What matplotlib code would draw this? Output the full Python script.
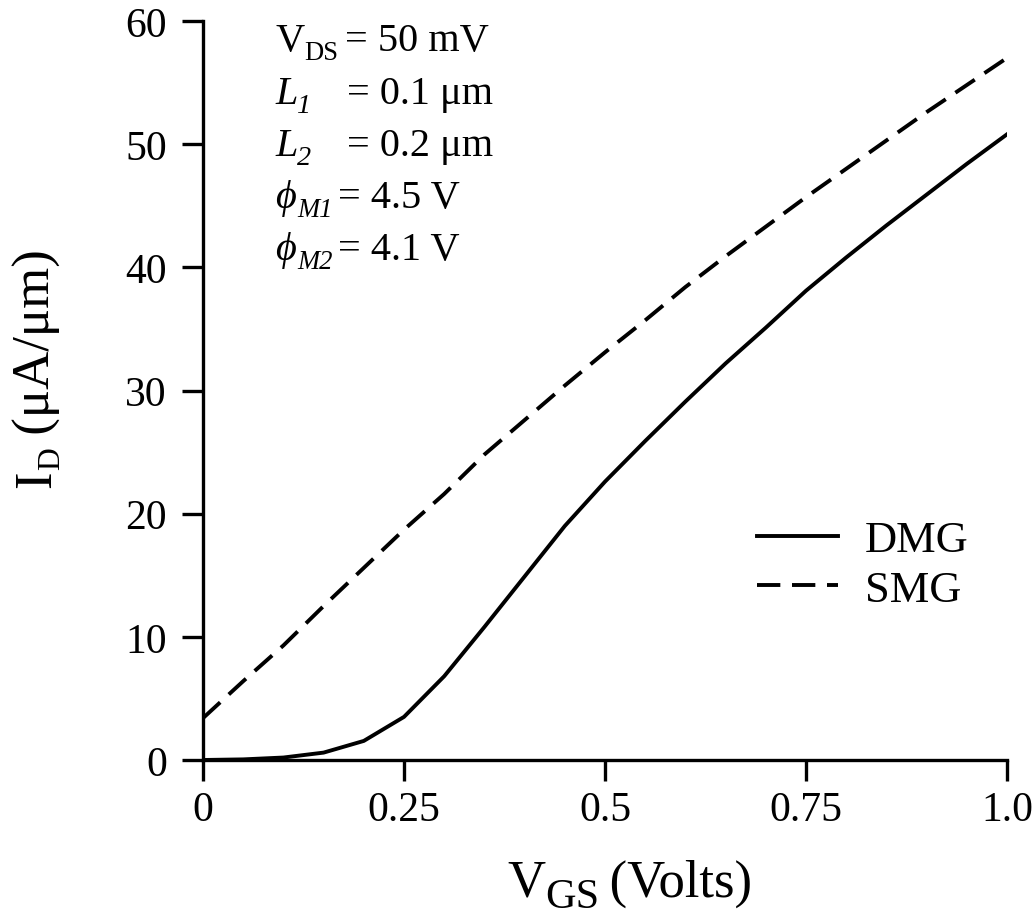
import matplotlib
matplotlib.use("Agg")
import matplotlib.pyplot as plt

plt.rcParams['font.family'] = ['Liberation Serif', 'DejaVu Serif']
plt.rcParams['mathtext.fontset'] = 'custom'
plt.rcParams['mathtext.rm'] = 'Liberation Serif'
plt.rcParams['mathtext.it'] = 'Liberation Serif:italic'
plt.rcParams['mathtext.bf'] = 'Liberation Serif:bold'

vgs = [0.0, 0.05, 0.1, 0.15, 0.2, 0.25, 0.3, 0.35, 0.4, 0.45, 0.5,
       0.55, 0.6, 0.65, 0.7, 0.75, 0.8, 0.85, 0.9, 0.95, 1.0]
id_dmg = [0.0, 0.05, 0.2, 0.6, 1.55, 3.5, 6.8, 10.8, 14.9, 19.0, 22.6,
          25.9, 29.1, 32.2, 35.1, 38.1, 40.8, 43.4, 45.9, 48.4, 50.8]
id_smg = [3.4, 6.4, 9.3, 12.5, 15.6, 18.7, 21.6, 24.8, 27.6, 30.4, 33.1,
          35.7, 38.4, 40.9, 43.3, 45.7, 48.0, 50.3, 52.6, 54.8, 57.0]

xticks = [0, 0.25, 0.5, 0.75, 1.0]
xticklabels = ["0", "0.25", "0.5", "0.75", "1.0"]
yticks = [0, 10, 20, 30, 40, 50, 60]

W, H = 1036, 920
fig = plt.figure(figsize=(W / 100, H / 100), dpi=100)
renderer = fig.canvas.get_renderer()
ax = fig.add_axes([203 / W, 1 - 761 / H, (1007 - 203) / W, (761 - 22) / H])

lw = 2.8
ax.plot(vgs, id_dmg, color='black', lw=lw, label='DMG')
ax.plot(vgs, id_smg, color='black', lw=lw, dashes=(6.0, 3.0), label='SMG')

ax.set_xlim(0, 1.0)
ax.set_ylim(0, 60)
ax.set_xticks(xticks)
ax.set_xticklabels(xticklabels)
ax.set_yticks(yticks)
for s in ['top', 'right']:
    ax.spines[s].set_visible(False)
for s in ['left', 'bottom']:
    ax.spines[s].set_linewidth(2.4)
ax.tick_params(axis='both', direction='out', length=15, width=2.4, labelsize=30)
ax.tick_params(axis='x', pad=7)
ax.tick_params(axis='y', pad=11)

leg = ax.legend(loc='upper left',
                bbox_to_anchor=((757 - 203) / 804, (761 - 521) / 739),
                frameon=False, fontsize=32, handlelength=1.82, handletextpad=0.6,
                labelspacing=0.22, borderaxespad=0, borderpad=0)


def runs_text(x0, y0, runs, rotation=0):
    """Place consecutive text runs; x0, y0 in pixels from top-left (baseline)."""
    pos = 0.0
    for s, size, dy, kw in runs:
        if rotation == 0:
            px, py = x0 + pos, y0 + dy
        else:
            px, py = x0 + dy, y0 - pos
        t = fig.text(px / W, 1 - py / H, s, fontsize=size, va='baseline', ha='left',
                     rotation=rotation, rotation_mode='anchor', **kw)
        bb = t.get_window_extent(renderer)
        pos += (bb.width if rotation == 0 else bb.height)
    return pos


# axis labels
S = 38
runs_text(507, 897, [('V', S, 0, {}), ('GS', S * 0.8, 11, {}), ('\u2009(Volts)', S, 0, {})])
runs_text(50, 488, [('I', S, 0, {}), ('D', S * 0.6, 9, {}), (' (\u03bcA/\u03bcm)', S, 0, {})],
          rotation=90)

# annotation block
fs = 29
it = {'fontstyle': 'italic'}
left_runs = [
    [('V', fs, 0, {}), ('DS', fs * 0.66, 9, {})],
    [('L', fs, 0, it), ('1', fs * 0.7, 9, it)],
    [('L', fs, 0, it), ('2', fs * 0.7, 9, it)],
    [(r'$\phi$', fs, 0, {}), ('M1', fs * 0.66, 9, it)],
    [(r'$\phi$', fs, 0, {}), ('M2', fs * 0.66, 9, it)],
]
lines_right = ['= 50 mV', '= 0.1 \u03bcm', '= 0.2 \u03bcm', '= 4.5 V', '= 4.1 V']
right_x = [345, 347, 347, 338, 338]
baselines = [51, 104, 156, 208, 260]
for lr, r, rx, b in zip(left_runs, lines_right, right_x, baselines):
    runs_text(275, b, lr)
    fig.text(rx / W, 1 - b / H, r, fontsize=fs, va='baseline', ha='left')

fig.savefig('out.png', dpi=100)
